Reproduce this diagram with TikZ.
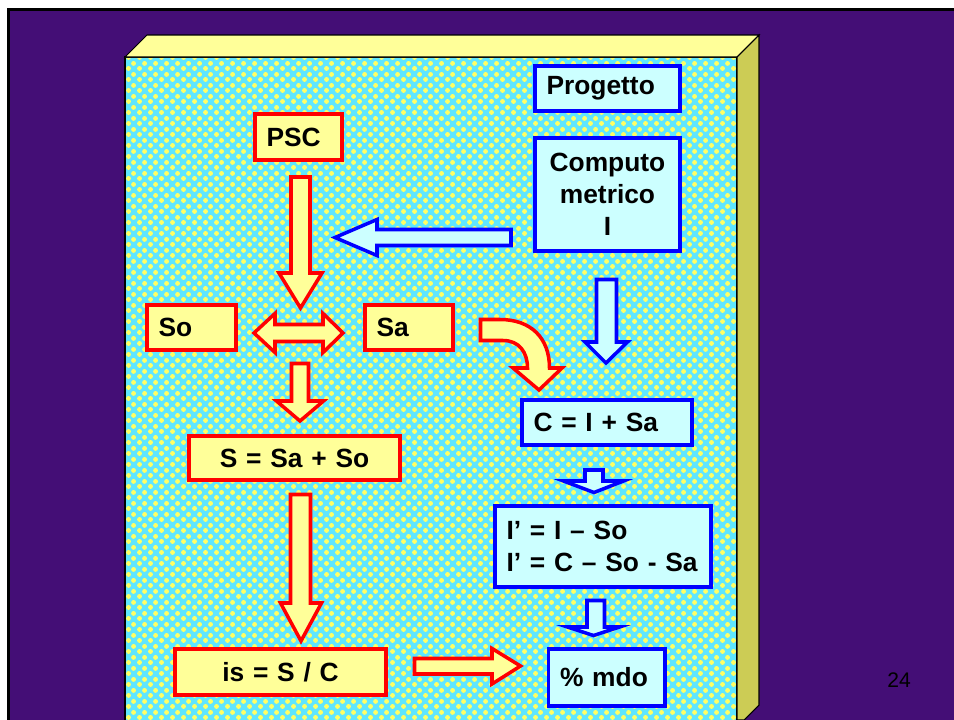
\documentclass[tikz,border=0pt]{standalone}
\usepackage{fontspec}
\setmainfont{Liberation Sans}
\usepackage{xcolor}
\usepackage{tikz}
\usetikzlibrary{patterns}

\definecolor{fondo}{RGB}{68,14,118}
\definecolor{amarillo}{RGB}{255,255,153}
\definecolor{celeste}{RGB}{204,255,255}
\definecolor{cian}{RGB}{95,230,255}
\definecolor{bolita}{RGB}{255,255,100}
\definecolor{lado}{RGB}{204,204,85}

\pgfdeclarepatternformonly{bolitas}{\pgfpoint{0pt}{0pt}}{\pgfpoint{6pt}{6pt}}{\pgfpoint{6pt}{6pt}}{%
  \pgfpathcircle{\pgfpoint{1.5pt}{1.5pt}}{1.45pt}%
  \pgfpathcircle{\pgfpoint{4.5pt}{4.5pt}}{1.45pt}%
  \pgfusepath{fill}}

\begin{document}
\begin{tikzpicture}[x=0.02cm, y=-0.02cm,
            caja/.style={rectangle, line width=2pt, inner xsep=0.235cm, inner ysep=0pt,
                font=\fontsize{15}{18.2}\selectfont\bfseries},
            redbox/.style={caja, draw=red, fill=amarillo},
            bluebox/.style={caja, draw=blue, fill=celeste},
            redarrow/.style={draw=red, fill=amarillo, line width=2pt, line join=miter},
            bluearrow/.style={draw=blue, fill=celeste, line width=2pt, line join=miter}]
            \useasboundingbox (0,0) rectangle (954,720);
            % Fondo
            \fill[white] (0,0) rectangle (954,720);
            \fill[black] (7,8) rectangle (954,720);
            \fill[fondo] (10,11) rectangle (954,720);
            % Caja
            \fill[cian] (125,57) rectangle (737,720);
            \fill[pattern=bolitas, pattern color=bolita] (125,57) rectangle (737,720);
            \draw[line width=0.6pt] (125,720) -- (125,57) -- (737,57) -- (737,720);
            \filldraw[fill=amarillo, line width=0.6pt] (125,57) -- (147,35) -- (759,35) -- (737,57) -- cycle;
            \filldraw[fill=lado, line width=0.6pt] (737,57) -- (759,35) -- (759,705) -- (744,720) -- (737,720) -- cycle;

            % Nodos
            \node[bluebox, minimum width=2.91cm, minimum height=0.91cm, text width=2.44cm, align=left] (prog) at (607.5,88.5) {Progetto};
            \node[bluebox, minimum width=2.91cm, minimum height=2.27cm, text width=2.44cm, align=center] (comp) at (607.5,194.5) {Computo\\metrico\\I};
            \node[redbox, minimum width=1.75cm, minimum height=0.93cm, text width=1.28cm, align=left] (psc) at (298.5,137) {PSC};
            \node[redbox, minimum width=1.79cm, minimum height=0.91cm, text width=1.32cm, align=left] (so) at (191.5,327.5) {So};
            \node[redbox, minimum width=1.77cm, minimum height=0.91cm, text width=1.30cm, align=left] (sa) at (409,327.5) {Sa};
            \node[redbox, minimum width=4.23cm, minimum height=0.89cm, text width=3.76cm, align=center] (ssum) at (294.5,458) {S = Sa + So};
            \node[bluebox, minimum width=3.41cm, minimum height=0.91cm, text width=2.94cm, align=left] (cbox) at (607,422.5) {C = I + Sa};
            \node[bluebox, minimum width=4.33cm, minimum height=1.63cm, text width=3.86cm, align=left] (iprime) at (603,546.5) {I’ = I – So\\I’ = C – So - Sa};
            \node[redbox, minimum width=4.23cm, minimum height=0.93cm, text width=3.76cm, align=center] (isbox) at (280.5,672) {is = S / C};
            \node[bluebox, minimum width=2.34cm, minimum height=1.15cm, text width=1.87cm, align=left] (mdo) at (606.75,677.5) {\% mdo};
            \node[font=\fontsize{12}{14}\selectfont] (num) at (899,680.5) {24};

            % Flechas
            \draw[redarrow] (291,177) -- (310,177) -- (310,273) -- (322,273) -- (300.5,308) -- (279,273) -- (291,273) -- cycle;
            \draw[bluearrow] (511,229.5) -- (377,229.5) -- (377,219.5) -- (335,237.5) -- (377,255.5) -- (377,245.5) -- (511,245.5) -- cycle;
            \draw[redarrow] (254,333) -- (275,313.5) -- (275,324.5) -- (323,324.5) -- (323,313.5) -- (343,333)
                -- (323,352.5) -- (323,341.5) -- (275,341.5) -- (275,352.5) -- cycle;
            \draw[redarrow] (291.5,363.5) -- (308.5,363.5) -- (308.5,401) -- (323.5,401) -- (300,421) -- (276.5,401) -- (291.5,401) -- cycle;
            \draw[redarrow] (480.5,319.5) -- (500,319.5) .. controls (531,319.5) and (549.5,338) .. (549.5,368)
                -- (562,368) -- (539,390) -- (513,368) -- (527.5,368) .. controls (527.5,352) and (519,340.5) .. (503,340.5)
                -- (480.5,340.5) -- cycle;
            \draw[bluearrow] (596.5,279.5) -- (616.5,279.5) -- (616.5,342) -- (627.5,342) -- (606,363) -- (585,342) -- (596.5,342) -- cycle;
            \draw[bluearrow] (585,470) -- (603,470) -- (603,481) -- (623.5,481) -- (594,492.5) -- (563.5,481) -- (585,481) -- cycle;
            \draw[redarrow] (290.5,494.5) -- (310.5,494.5) -- (310.5,603) -- (321.5,603) -- (301,641) -- (280.5,603) -- (290.5,603) -- cycle;
            \draw[bluearrow] (587,600.5) -- (604.5,600.5) -- (604.5,627) -- (619.5,627) -- (593.5,635.5) -- (567.5,627) -- (587,627) -- cycle;
            \draw[redarrow] (414.5,658.5) -- (492,658.5) -- (492,648.5) -- (520.5,666) -- (492,684) -- (492,674) -- (414.5,674) -- cycle;
\end{tikzpicture}
\end{document}
